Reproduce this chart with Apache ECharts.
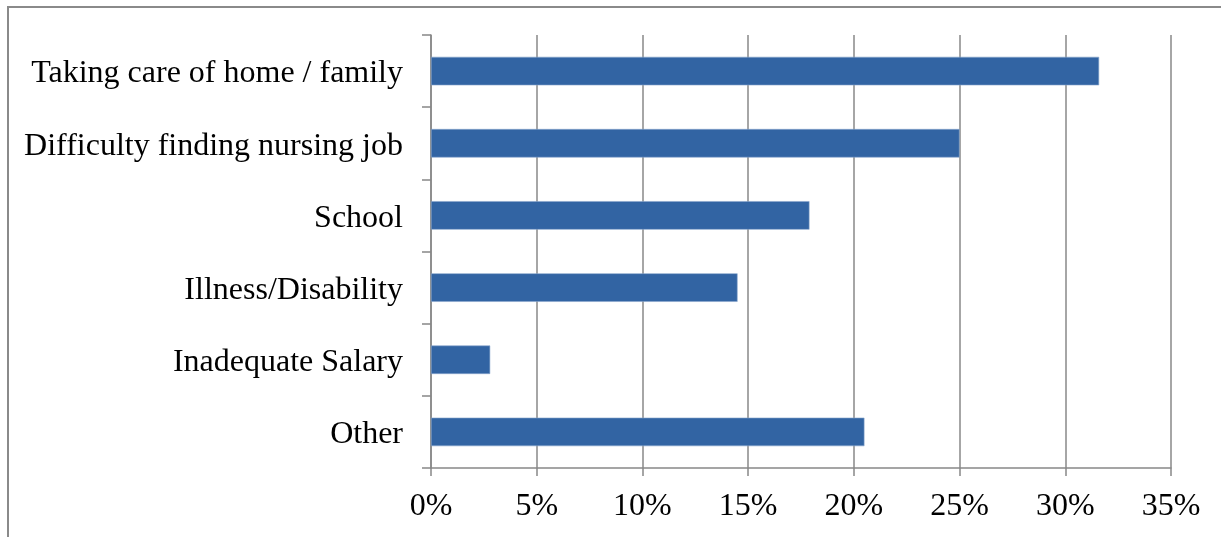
<!DOCTYPE html>
<html><head><meta charset="utf-8">
<script src="https://cdn.jsdelivr.net/npm/echarts@6/dist/echarts.min.js"></script>
<style>
html,body{margin:0;padding:0;background:#fff;}
#frame{position:absolute;left:7px;top:6px;width:1220px;height:540px;border-left:2px solid #8a8a8a;border-top:2px solid #8a8a8a;}
#c{position:absolute;left:0;top:0;width:1221px;height:537px;}
</style></head>
<body>
<div id="frame"></div>
<div id="c"></div>
<script>
const categories = ["Taking care of home / family","Difficulty finding nursing job","School","Illness/Disability","Inadequate Salary","Other"];
const values = [31.6, 25.0, 17.9, 14.5, 2.8, 20.5];
const xTicks = [0,5,10,15,20,25,30,35];

const chart = echarts.init(document.getElementById('c'), null, {renderer:'canvas'});
const font = '"Liberation Serif","Times New Roman",serif';
chart.setOption({
  animation:false,
  backgroundColor:'transparent',
  grid:{left:431,top:35,width:740,height:433,containLabel:false},
  xAxis:{type:'value',min:0,max:35,interval:5,
    axisLine:{show:true,lineStyle:{color:'#888',width:1.5}},
    axisTick:{show:true,length:8,lineStyle:{color:'#888',width:1.5}},
    splitLine:{show:true,lineStyle:{color:'#888',width:1.5}},
    axisLabel:{formatter:v=>v+'%',color:'#000',fontFamily:font,fontSize:32,margin:23}
  },
  yAxis:{type:'category',data:categories.slice().reverse(),inverse:false,
    axisLine:{show:true,lineStyle:{color:'#888',width:1.5}},
    axisTick:{show:true,length:9,lineStyle:{color:'#888',width:1.5}},
    axisLabel:{color:'#000',fontFamily:font,fontSize:32,margin:28,verticalAlign:'top',lineHeight:6}
  },
  series:[{type:'bar',data:values.slice().reverse(),barCategoryGap:'60.5%',
    itemStyle:{color:'#3264a3',borderColor:'#8aa6cc',borderWidth:0.6}}]
});
</script>
</body></html>
